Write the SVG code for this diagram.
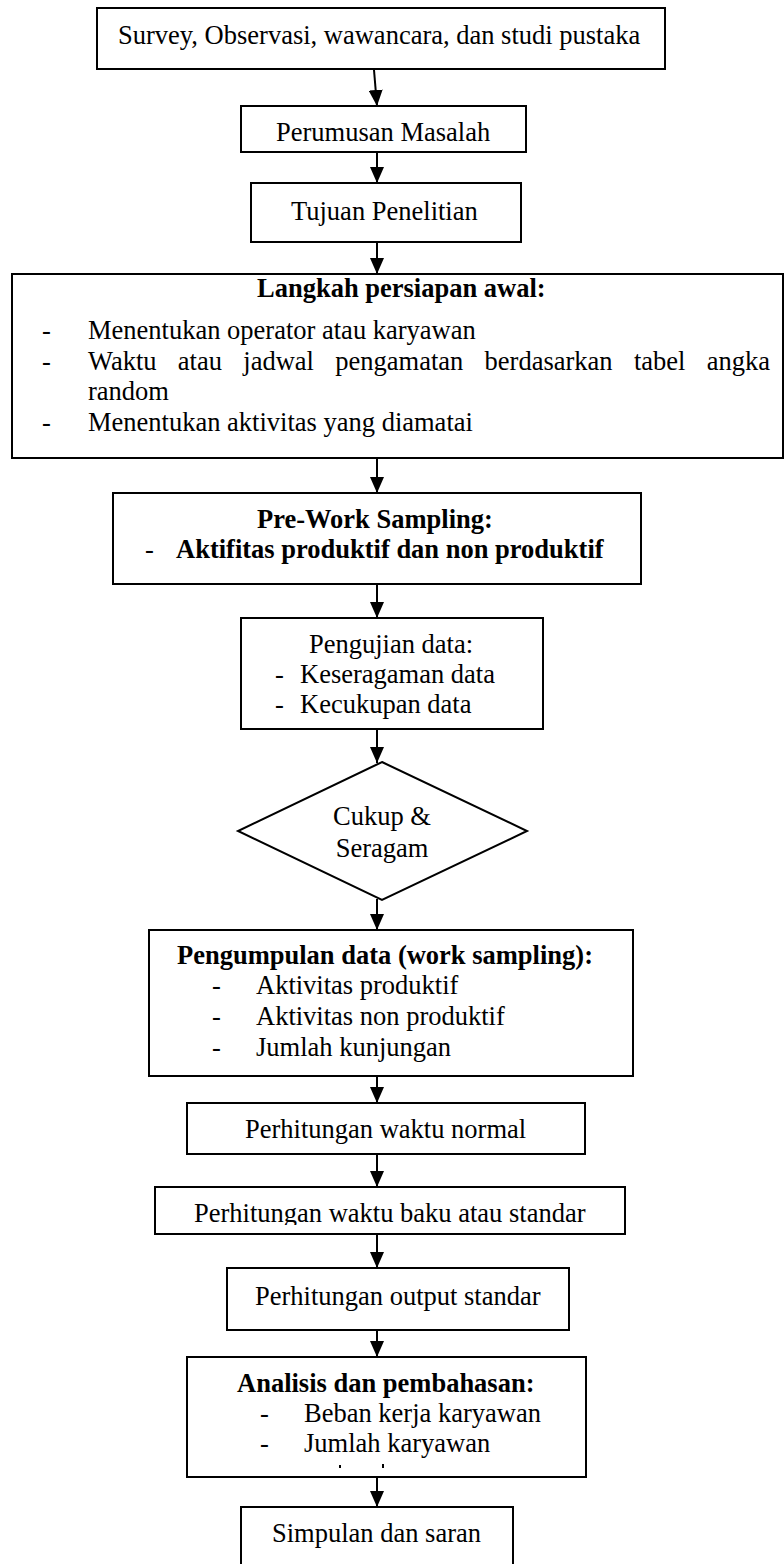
<svg xmlns="http://www.w3.org/2000/svg" width="784" height="1564" viewBox="0 0 784 1564">
<style>
.box{fill:#fff;stroke:#000;stroke-width:2}
.t{font-family:"Liberation Serif","Times New Roman",serif;font-size:26.5px;fill:#000}
.b{font-weight:bold}
.c{text-anchor:middle}
.arr{stroke:#000;stroke-width:2;fill:none;marker-end:url(#ah)}
</style>
<defs>
<marker id="ah" viewBox="0 0 16 14" refX="16" refY="7" markerWidth="16" markerHeight="14" markerUnits="userSpaceOnUse" orient="auto">
<path d="M0,0 L16,7 L0,14 z" fill="#000"/>
</marker>
<clipPath id="clipBaku"><rect x="150" y="1180" width="480" height="45"/></clipPath>
<clipPath id="clipAnalisis"><rect x="180" y="1350" width="420" height="126"/></clipPath>
</defs>
<rect width="784" height="1564" fill="#fff"/>

<g id="connectors">
<line class="arr" x1="374" y1="70" x2="377" y2="106"/>
<line class="arr" x1="377" y1="152" x2="377" y2="183"/>
<line class="arr" x1="377" y1="242" x2="377" y2="274"/>
<line class="arr" x1="377" y1="458" x2="377" y2="493"/>
<line class="arr" x1="377" y1="584" x2="377" y2="618"/>
<line class="arr" x1="377" y1="729" x2="377" y2="763"/>
<line class="arr" x1="377" y1="899" x2="377" y2="930"/>
<line class="arr" x1="377" y1="1076" x2="377" y2="1103"/>
<line class="arr" x1="377" y1="1154" x2="377" y2="1187"/>
<line class="arr" x1="377" y1="1234" x2="377" y2="1268"/>
<line class="arr" x1="377" y1="1330" x2="377" y2="1357"/>
<line class="arr" x1="377" y1="1477" x2="377" y2="1507"/>
</g>

<g id="survey">
<rect class="box" x="97" y="8" width="568" height="61"/>
<text class="t" x="118" y="44">Survey, Observasi, wawancara, dan studi pustaka</text>
</g>

<g id="perumusan">
<rect class="box" x="241" y="106" width="285" height="46"/>
<text class="t" x="276" y="141">Perumusan Masalah</text>
</g>

<g id="tujuan">
<rect class="box" x="251" y="183" width="270" height="59"/>
<text class="t" x="291" y="220">Tujuan Penelitian</text>
</g>

<g id="langkah">
<rect class="box" x="12" y="274" width="771" height="184"/>
<text class="t b" x="257" y="297">Langkah persiapan awal:</text>
<text class="t" x="42" y="339">-</text>
<text class="t" x="88" y="339">Menentukan operator atau karyawan</text>
<text class="t" x="42" y="370">-</text>
<text class="t" x="88" y="370" word-spacing="14.7">Waktu atau jadwal pengamatan berdasarkan tabel angka</text>
<text class="t" x="88" y="400">random</text>
<text class="t" x="42" y="431">-</text>
<text class="t" x="88" y="431">Menentukan aktivitas yang diamatai</text>
</g>

<g id="prework">
<rect class="box" x="113" y="493" width="528" height="91"/>
<text class="t b" x="257" y="528">Pre-Work Sampling:</text>
<text class="t" x="145" y="558">-</text>
<text class="t b" x="176" y="558">Aktifitas produktif dan non produktif</text>
</g>

<g id="pengujian">
<rect class="box" x="241" y="618" width="302" height="111"/>
<text class="t" x="309" y="653">Pengujian data:</text>
<text class="t" x="275" y="683">-</text>
<text class="t" x="300" y="683">Keseragaman data</text>
<text class="t" x="275" y="713">-</text>
<text class="t" x="300" y="713">Kecukupan data</text>
</g>

<g id="cukup">
<polygon class="box" points="382,762 527,831 382,900 238,831"/>
<text class="t c" x="382" y="825">Cukup &amp;</text>
<text class="t c" x="382" y="857">Seragam</text>
</g>

<g id="pengumpulan">
<rect class="box" x="149" y="930" width="484" height="146"/>
<text class="t b" x="177" y="964">Pengumpulan data (work sampling):</text>
<text class="t" x="212" y="994">-</text>
<text class="t" x="256" y="994">Aktivitas produktif</text>
<text class="t" x="212" y="1025">-</text>
<text class="t" x="256" y="1025">Aktivitas non produktif</text>
<text class="t" x="212" y="1056">-</text>
<text class="t" x="256" y="1056">Jumlah kunjungan</text>
</g>

<g id="normal">
<rect class="box" x="187" y="1103" width="398" height="51"/>
<text class="t" x="245" y="1138">Perhitungan waktu normal</text>
</g>

<g id="baku">
<rect class="box" x="155" y="1187" width="470" height="47"/>
<text class="t" x="194" y="1222" clip-path="url(#clipBaku)">Perhitungan waktu baku atau standar</text>
</g>

<g id="output">
<rect class="box" x="227" y="1268" width="342" height="62"/>
<text class="t" x="255" y="1305">Perhitungan output standar</text>
</g>

<g id="analisis">
<rect class="box" x="187" y="1357" width="399" height="120"/>
<text class="t b" x="237" y="1392">Analisis dan pembahasan:</text>
<text class="t" x="260" y="1422">-</text>
<text class="t" x="304" y="1422">Beban kerja karyawan</text>
<text class="t" x="260" y="1452">-</text>
<text class="t" x="304" y="1452">Jumlah karyawan</text>
<rect x="339" y="1465" width="2" height="3" fill="#000"/>
<rect x="382" y="1464" width="2" height="4" fill="#000"/>
</g>

<g id="simpulan">
<rect class="box" x="241" y="1507" width="272" height="80"/>
<text class="t" x="272" y="1542">Simpulan dan saran</text>
</g>
</svg>
